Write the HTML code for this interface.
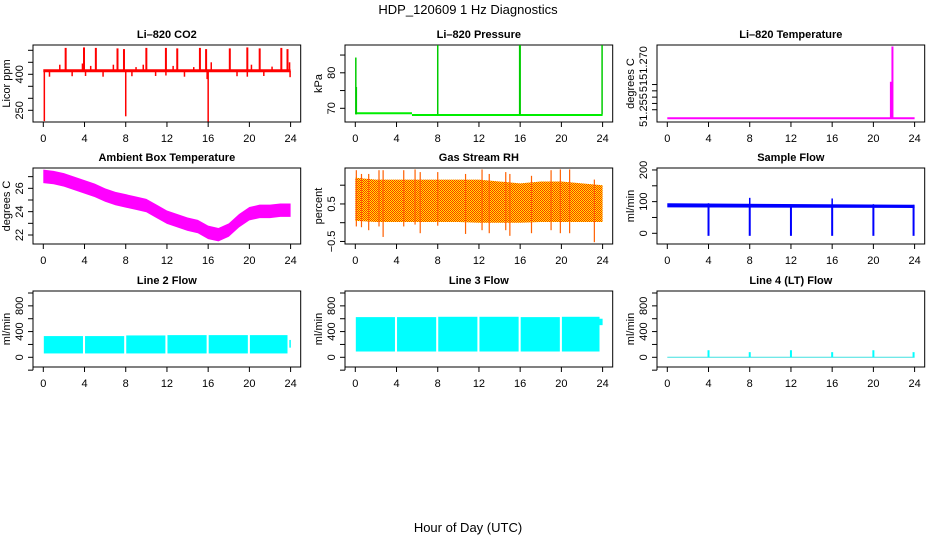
<!DOCTYPE html>
<html><head><meta charset="utf-8"><style>
body{margin:0;background:#fff;}
svg{display:block;font-family:"Liberation Sans",Arial,sans-serif;}
.tk{font-size:11px;fill:#000;}
.tt{font-size:11px;font-weight:bold;fill:#000;}
</style></head><body>
<svg id="c" width="936" height="540" viewBox="0 0 936 540" xmlns="http://www.w3.org/2000/svg">
<defs>
<pattern id="rhpat" width="2" height="2" patternUnits="userSpaceOnUse">
<rect width="2" height="2" fill="#ffee00"/><rect width="1" height="1" fill="#ff3000"/><rect x="1" y="1" width="1" height="1" fill="#ff3000"/>
</pattern>
</defs>
<text x="468" y="14" text-anchor="middle" font-size="13">HDP_120609  1 Hz Diagnostics</text>
<text x="468" y="532" text-anchor="middle" font-size="13">Hour of Day (UTC)</text>
</svg>
<script>
// ---- data ----
const xTicks=[0,4,8,12,16,20,24];
const co2Base=415;
const co2UpSpikes=[2.17,3.95,5.1,7.2,7.83,10.0,11.9,13.0,15.2,15.8,18.1,19.8,21.0,23.1,23.7];
const co2UpValues=[510,512,510,508,505,510,510,508,510,505,508,512,508,510,505];
const co2SmallSpikes=[1.6,3.8,4.6,6.8,9.0,9.7,12.6,14.6,16.3,20.2,22.2,23.9];
const co2SmallValues=[440,445,435,440,430,440,435,430,450,440,432,450];
const co2DownSpikes=[0.1,0.6,2.8,4.1,5.8,8.0,8.6,10.9,11.9,13.7,15.9,16.0,18.8,19.8,21.4,23.95];
const co2DownValues=[205,390,392,393,390,225,392,393,395,390,380,203,392,390,393,388];
const presSegT=[0,5.5,24];
const presSegV=[68.6,68.1];
const presSpikeT=[0.05,0.1,8.0,16.0,15.95,23.95];
const presSpikeV=[84.3,76,87.8,87.8,87.8,87.8];
const tempBase=51.2505;
const tempTicks=[51.2539,51.2564,51.2589,51.2614,51.2639];
const tempSpikeT=[21.7,21.85];
const tempSpikeV=[51.265,51.279];
const ambT=[0,1,2,3,4,5,6,7,8,9,10,11,12,13,14,15,16,17,18,19,20,21,22,23,24];
const ambV=[27.0,26.9,26.7,26.4,26.1,25.8,25.4,25.1,24.9,24.7,24.5,24.0,23.5,23.2,22.9,22.7,22.2,22.0,22.4,23.2,23.8,24.0,24.0,24.1,24.1];
const rhT=[0,2,4,6,8,10,12,14,16,18,20,22,24];
const rhTop=[1.2,1.15,1.15,1.15,1.15,1.15,1.15,1.1,1.05,1.1,1.1,1.05,1.0];
const rhBot=[0.05,0.02,0.02,0.02,0.02,0.02,0.0,0.0,0.0,0.02,0.02,0.02,0.02];
const rhSpikeT=[0.1,0.6,1.3,2.3,2.7,4.7,5.8,6.3,8.0,10.7,12.3,13.0,14.6,15.0,17.1,19.0,19.9,20.8,23.2];
const rhSpikeLo=[-0.1,-0.12,-0.2,-0.1,-0.38,-0.1,-0.05,-0.28,-0.08,-0.3,-0.2,-0.28,-0.2,-0.35,-0.28,-0.2,-0.28,-0.28,-0.52];
const rhSpikeHi=[1.4,1.3,1.3,1.4,1.4,1.4,1.42,1.35,1.35,1.3,1.42,1.3,1.35,1.3,1.25,1.4,1.42,1.42,1.15];
const sfT=[0,24];
const sfLo=[82,80];
const sfHi=[95,90];
const sfDipT=[4,8,12,16,20,23.9];
const sfDipV=[-8,-8,-8,-8,-8,-8];
const sfUpV=[95,112,90,110,92,90];
const l2SegStart=[0.05,4.05,8.05,12.05,16.05,20.05];
const l2SegEnd=[3.85,7.85,11.85,15.85,19.85,23.7];
const l2Lo=[60,60,60,60,60,60];
const l2Hi=[330,330,340,345,345,345];
const l3Lo=[90,90,90,90,90,90];
const l3Hi=[625,625,630,630,625,630];
const l4SpikeT=[4,8,12,16,20,23.9];
const l4SpikeV=[110,80,110,80,110,80];

// ---- layout ----
const svg=document.getElementById('c');
const NS='http://www.w3.org/2000/svg';
function el(tag,attrs,parent){const e=document.createElementNS(NS,tag);for(const k in attrs)e.setAttribute(k,attrs[k]);(parent||svg).appendChild(e);return e;}
const colX=[43.3,355.3,667.3];const W24=247.3;
const rowTop=[45,168,291];const rowBot=[122,244,367];

function panel(col,row,title,ytitle,yPx0,yV0,pxPerUnit,ticks,labels,name){
  const g=el('g',{});
  
  
  const x0=colX[col];const top=rowTop[row],bot=rowBot[row];
  const L=x0-10.3,R=x0+257.4;
  const xs=h=>x0+h*W24/24;
  const ys=v=>yPx0-(v-yV0)*pxPerUnit;
  const t=el('text',{x:(L+R)/2,y:top-7,'text-anchor':'middle',class:'tt'},g);t.textContent=title;
  
  const box=el('rect',{x:L,y:top,width:R-L,height:bot-top,fill:'none',stroke:'#000','stroke-width':1},g);
  
  const xa=el('g',{},g);
  el('line',{x1:xs(0),x2:xs(24),y1:bot,y2:bot,stroke:'#000'},xa);
  xTicks.forEach(h=>{el('line',{x1:xs(h),x2:xs(h),y1:bot,y2:bot+5,stroke:'#000'},xa);
    const tx=el('text',{x:xs(h),y:bot+20,'text-anchor':'middle',class:'tk'},xa);tx.textContent=h;});
  const ya=el('g',{},g);
  el('line',{x1:L,x2:L,y1:ys(ticks[0]),y2:ys(ticks[ticks.length-1]),stroke:'#000'},ya);
  ticks.forEach(v=>el('line',{x1:L-5,x2:L,y1:ys(v),y2:ys(v),stroke:'#000'},ya));
  labels.forEach(lb=>{const yy=lb[2]!==undefined?lb[2]:ys(lb[0]);
    const tx=el('text',{x:0,y:0,'text-anchor':'middle',class:'tk',transform:`translate(${L-10},${yy}) rotate(-90)`},ya);tx.textContent=lb[1];});
  const yt=el('text',{x:0,y:0,'text-anchor':'middle',class:'tk',transform:`translate(${L-23},${(top+bot)/2}) rotate(-90)`},g);
  yt.textContent=ytitle;
  const d=el('g',{},g);
  return {xs,ys,d};
}
function vline(p,h,a,b,color,w){el('line',{x1:p.xs(h),x2:p.xs(h),y1:p.ys(a),y2:p.ys(b),stroke:color,'stroke-width':w||1.5},p.d);}

// CO2
let p=panel(0,0,'Li\u2013820 CO2','Licor ppm',110.3,250,0.24,[250,300,350,400,450,500],[[250,'250'],[400,'400']],'panel-co2');
el('line',{x1:p.xs(0),x2:p.xs(24),y1:p.ys(co2Base),y2:p.ys(co2Base),stroke:'#ff0000','stroke-width':3},p.d);
co2UpSpikes.forEach((h,i)=>vline(p,h,co2Base,co2UpValues[i],'#ff0000',2));
co2SmallSpikes.forEach((h,i)=>vline(p,h,co2Base,co2SmallValues[i],'#ff0000',1.5));
co2DownSpikes.forEach((h,i)=>vline(p,h,co2Base,co2DownValues[i],'#ff0000',1.5));

// Pressure
p=panel(1,0,'Li\u2013820 Pressure','kPa',108.3,70,3.55,[70,75,80,85],[[70,'70'],[80,'80']],'panel-pressure');
presSegV.forEach((v,i)=>el('line',{x1:p.xs(presSegT[i]),x2:p.xs(presSegT[i+1]),y1:p.ys(v),y2:p.ys(v),stroke:'#00ee00','stroke-width':2},p.d));
presSpikeT.forEach((h,i)=>vline(p,h,68.3,presSpikeV[i],'#00cc00',1.5));

// Temperature
p=panel(2,0,'Li\u2013820 Temperature','degrees C',118.3,51.2505,2520,tempTicks,[],'panel-li820-temp');
[['51.255',110],['51',86],['51.270',63]].forEach(a=>{const tx=el('text',{x:0,y:0,'text-anchor':'middle',class:'tk',transform:`translate(${657-10},${a[1]}) rotate(-90)`},p.d.parentNode);tx.textContent=a[0];});
el('line',{x1:p.xs(0),x2:p.xs(24),y1:p.ys(tempBase),y2:p.ys(tempBase),stroke:'#ff00ff','stroke-width':2},p.d);
vline(p,tempSpikeT[0],tempBase,tempSpikeV[0],'#ff00ff',2);
vline(p,tempSpikeT[1],tempBase,tempSpikeV[1],'#ff00ff',2);

// Ambient
p=panel(0,1,'Ambient Box Temperature','degrees C',235,22,11.67,[22,23,24,25,26,27],[[22,'22'],[24,'24'],[26,'26']],'panel-ambient-temp');
{let pts=ambT.map((h,i)=>p.xs(h)+','+p.ys(ambV[i]+0.6));let pts2=ambT.map((h,i)=>p.xs(h)+','+p.ys(ambV[i]-0.55)).reverse();
el('polygon',{points:pts.concat(pts2).join(' '),fill:'#ff00ff'},p.d);}

// RH
p=panel(1,1,'Gas Stream RH','percent',222.7,0,37.5,[-0.5,0,0.5,1.0],[[-0.5,'\u22120.5'],[0.5,'0.5']],'panel-rh');
{let pts=rhT.map((h,i)=>p.xs(h)+','+p.ys(rhTop[i]));let pts2=rhT.map((h,i)=>p.xs(h)+','+p.ys(rhBot[i])).reverse();
el('polygon',{points:pts.concat(pts2).join(' '),fill:'url(#rhpat)'},p.d);}
rhSpikeT.forEach((h,i)=>vline(p,h,rhSpikeLo[i],rhSpikeHi[i],'#ff6000',1.2));

// Sample flow
p=panel(2,1,'Sample Flow','ml/min',233.3,0,0.3167,[0,50,100,150,200],[[0,'0'],[100,'100'],[200,'200']],'panel-sample-flow');
{let pts=sfT.map((h,i)=>p.xs(h)+','+p.ys(sfHi[i]));let pts2=sfT.map((h,i)=>p.xs(h)+','+p.ys(sfLo[i])).reverse();
el('polygon',{points:pts.concat(pts2).join(' '),fill:'#0000ff'},p.d);}
sfDipT.forEach((h,i)=>{vline(p,h,85,sfDipV[i],'#0000ff',2);vline(p,h,85,sfUpV[i],'#0000ff',1.5);});

// Line 2
const lTicks=[-200,0,200,400,600,800,1000];const lLab=[[0,'0'],[400,'400'],[800,'800']];
p=panel(0,2,'Line 2 Flow','ml/min',357.3,0,0.0643,lTicks.slice(0),lLab,'panel-line2-flow');
l2SegStart.forEach((s,i)=>el('rect',{x:p.xs(s),y:p.ys(l2Hi[i]),width:p.xs(l2SegEnd[i])-p.xs(s),height:p.ys(l2Lo[i])-p.ys(l2Hi[i]),fill:'#00ffff'},p.d));
vline(p,23.95,150,270,'#00ffff',1.5);
// Line 3
p=panel(1,2,'Line 3 Flow','ml/min',357.3,0,0.0643,lTicks,lLab,'panel-line3-flow');
l2SegStart.forEach((s,i)=>el('rect',{x:p.xs(s),y:p.ys(l3Hi[i]),width:p.xs(l2SegEnd[i])-p.xs(s),height:p.ys(l3Lo[i])-p.ys(l3Hi[i]),fill:'#00ffff'},p.d));
el('rect',{x:p.xs(23.7),y:p.ys(600),width:p.xs(24)-p.xs(23.7),height:p.ys(500)-p.ys(600),fill:'#00ffff'},p.d);
// Line 4
p=panel(2,2,'Line 4 (LT) Flow','ml/min',357.3,0,0.0643,lTicks,lLab,'panel-line4-flow');
el('line',{x1:p.xs(0),x2:p.xs(24),y1:p.ys(0),y2:p.ys(0),stroke:'#40e0e0','stroke-width':1},p.d);
l4SpikeT.forEach((h,i)=>vline(p,h,0,l4SpikeV[i],'#00ffff',2));
</script>
</body></html>
